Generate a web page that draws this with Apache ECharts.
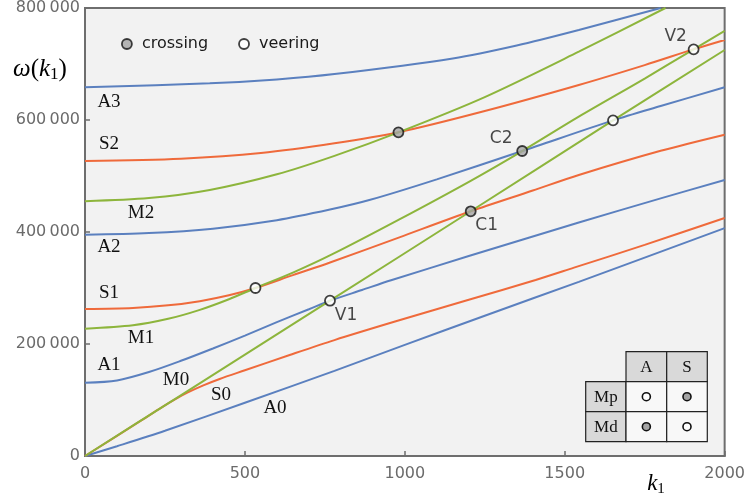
<!DOCTYPE html>
<html>
<head>
<meta charset="utf-8">
<script src="https://cdn.jsdelivr.net/npm/echarts@6/dist/echarts.min.js"></script>
<style>html,body{margin:0;padding:0;background:#fff}#c{width:748px;height:499px}</style>
</head>
<body>
<div id="c"></div>
<script>
// ---- data: [k1, omega] ----
const A0 = [[0,0],[100,17500],[250,45000],[500,95000],[780,152000],[1000,198500],[1250,250500],[1544,311000],[2000,407000]];
const A1 = [[0,130900],[100,135000],[200,150000],[300,170000],[400,192000],[500,215000],[600,239000],[700,262000],[766,277300],[866,296400],[957,313800],[1200,357000],[1544,417000],[1800,460000],[2000,492900]];
const A2 = [[0,395000],[200,398000],[400,406000],[600,421000],[766,440000],[889,457000],[1100,494000],[1367,544600],[1651,599400],[1800,625000],[2000,658500]];
const A3 = [[0,658400],[390,665500],[600,672500],[780,682000],[1150,710000],[1350,733000],[1544,760700],[1800,800000]];
const S0 = [[0,0],[170,61300],[240,86800],[280,100500],[320,113000],[370,126000],[421,137500],[500,153000],[640,180400],[780,207000],[972,240500],[1200,279000],[1409,314300],[1529,336300],[1750,377000],[2000,425000]];
const S1 = [[0,262500],[150,264500],[260,269000],[359,276500],[450,287000],[533,300000],[650,323000],[764,345000],[983,390500],[1206,437000],[1400,474000],[1544,501800],[1800,545000],[2000,573800]];
const S2 = [[0,526800],[300,531000],[550,541000],[780,558300],[980,578000],[1250,616000],[1544,662500],[1750,698000],[1903,726200],[2000,743000]];
const M0 = [[0,0],[281,101700],[766,277300],[1206,437000],[1651,599400],[2000,725000]];
const M1 = [[0,227400],[150,233500],[260,245000],[359,261000],[450,280000],[533,300000],[650,327500],[772,360000],[983,422600],[1206,491500],[1367,544600],[1544,606000],[1750,674000],[1903,726200],[2000,759000]];
const M2 = [[0,455000],[200,460500],[390,475000],[600,503000],[780,536000],[980,578000],[1250,641000],[1544,722000],[1815,800000]];

const crossingPts = [[980,578000],[1206,437000],[1367,544600]];
const crossingNames = ['', 'C1', 'C2'];
const veeringPts = [[533,300000],[766,277300],[1651,599400],[1903,726200]];
const veeringNames = ['', 'V1', '', 'V2'];

const xTickLabels = ['0','500','1000','1500','2000'];
const yTickLabels = ['0','200\u2009000','400\u2009000','600\u2009000','800\u2009000'];
const curveNames = ['A3','S2','M2','A2','S1','M1','A1','M0','S0','A0'];

// ---- styling ----
const BLUE = '#5b80bf', ORANGE = '#ef6a3b', GREEN = '#8db53c';
const GRAYDOT = '#a4a4a4';
const labelOffsets = {C1:[16,14], C2:[-21,-12], V1:[16,15], V2:[-18,-13]};
const curveLabelPos = {A3:[109,102],S2:[109,144],M2:[141,213],A2:[109,247],S1:[109,293],M1:[141,338],A1:[109,365],M0:[176,380],S0:[221,395],A0:[275,408]};

function lineSeries(name, data, color){
  return {type:'line', name:name, data:data, showSymbol:false, smooth:0.3, silent:true,
    lineStyle:{color:color, width:2}, itemStyle:{color:color}, z:2};
}
function pointItems(pts, names){
  return pts.map((p,i)=>{
    const n = names[i];
    const it = {value:p};
    if (n){
      it.label = {show:true, formatter:n, position:'inside', offset:labelOffsets[n],
        fontFamily:'DejaVu Sans', fontSize:17, color:'#1a1a1a'};
    }
    return it;
  });
}

const graphics = [];
curveNames.forEach(n=>{
  const p = curveLabelPos[n];
  graphics.push({type:'text', x:p[0], y:p[1], silent:true,
    style:{text:n, font:'19px "Liberation Serif"', fill:'#111', align:'center', verticalAlign:'middle'}});
});
graphics.push({type:'text', x:40, y:69, silent:true, style:{
  text:'{i|ω}{n|(}{i|k}{s|1}{n|)}', align:'center', verticalAlign:'middle',
  rich:{i:{fontFamily:'Liberation Serif', fontStyle:'italic', fontSize:25, lineHeight:28, color:'#111'},
        n:{fontFamily:'Liberation Serif', fontSize:25, lineHeight:28, color:'#111'},
        s:{fontFamily:'Liberation Serif', fontSize:17, lineHeight:17, verticalAlign:'bottom', color:'#111'}}
}});
graphics.push({type:'text', x:656, y:484, silent:true, style:{
  text:'{i|k}{s|1}', align:'center', verticalAlign:'middle',
  rich:{i:{fontFamily:'Liberation Serif', fontStyle:'italic', fontSize:23, lineHeight:26, color:'#111'},
        s:{fontFamily:'Liberation Serif', fontSize:15, lineHeight:16, verticalAlign:'bottom', color:'#111'}}
}});
const tx = [585.7, 626, 666.7, 707.3], ty = [351.7, 381.7, 411.7, 441.7];
const HEAD = '#d9d9d9', CELL = '#f8f8f8';
function cell(c, r, fill){
  graphics.push({type:'rect', silent:true, shape:{x:tx[c], y:ty[r], width:tx[c+1]-tx[c], height:ty[r+1]-ty[r]},
    style:{fill:fill, stroke:'#222', lineWidth:1.2}, z:10});
}
function ctext(c, r, t){
  graphics.push({type:'text', silent:true, x:(tx[c]+tx[c+1])/2, y:(ty[r]+ty[r+1])/2+1,
    style:{text:t, font:'17px "Liberation Serif"', fill:'#111', align:'center', verticalAlign:'middle'}, z:11});
}
function cdot(c, r, fill){
  graphics.push({type:'circle', silent:true, shape:{cx:(tx[c]+tx[c+1])/2, cy:(ty[r]+ty[r+1])/2, r:4},
    style:{fill:fill, stroke:'#111', lineWidth:1.6}, z:11});
}
cell(1,0,HEAD); cell(2,0,HEAD); cell(0,1,HEAD); cell(0,2,HEAD);
cell(1,1,CELL); cell(2,1,CELL); cell(1,2,CELL); cell(2,2,CELL);
ctext(1,0,'A'); ctext(2,0,'S'); ctext(0,1,'Mp'); ctext(0,2,'Md');
cdot(1,1,'#ffffff'); cdot(2,1,GRAYDOT); cdot(1,2,GRAYDOT); cdot(2,2,'#ffffff');

const chart = echarts.init(document.getElementById('c'), null, {renderer:'canvas'});
chart.setOption({
  animation:false,
  backgroundColor:'#ffffff',
  grid:{left:85, right:21, top:8, bottom:43, show:true, backgroundColor:'#f2f2f2', borderColor:'#6e6e6e', borderWidth:2},
  xAxis:{type:'value', min:0, max:2000, interval:500,
    axisLine:{show:true, lineStyle:{color:'#6e6e6e', width:2}},
    axisTick:{show:true, inside:true, length:5, lineStyle:{color:'#6e6e6e', width:1.5}},
    splitLine:{show:false},
    axisLabel:{margin:10, color:'#6b6b6b', fontFamily:'DejaVu Sans', fontSize:16,
      formatter:(v)=>xTickLabels[Math.round(v/500)]}},
  yAxis:{type:'value', min:0, max:800000, interval:200000,
    axisLine:{show:true, lineStyle:{color:'#6e6e6e', width:2}},
    axisTick:{show:true, inside:true, length:5, lineStyle:{color:'#6e6e6e', width:1.5}},
    splitLine:{show:false},
    axisLabel:{margin:5, color:'#6b6b6b', fontFamily:'DejaVu Sans', fontSize:16,
      formatter:(v)=>yTickLabels[Math.round(v/200000)]}},
  legend:{show:true, left:116, top:31, itemWidth:20, itemHeight:10, itemGap:30,
    data:[{name:'crossing', icon:'circle'},{name:'veering', icon:'circle'}],
    itemStyle:{borderColor:'#111', borderWidth:1.8},
    textStyle:{fontFamily:'DejaVu Sans', fontSize:16, color:'#1a1a1a'}},
  graphic:graphics,
  series:[
    lineSeries('A0',A0,BLUE), lineSeries('A1',A1,BLUE), lineSeries('A2',A2,BLUE), lineSeries('A3',A3,BLUE),
    lineSeries('S0',S0,ORANGE), lineSeries('S1',S1,ORANGE), lineSeries('S2',S2,ORANGE),
    lineSeries('M0',M0,GREEN), lineSeries('M1',M1,GREEN), lineSeries('M2',M2,GREEN),
    {type:'scatter', name:'crossing', data:pointItems(crossingPts, crossingNames), symbol:'circle', symbolSize:10, z:5,
      itemStyle:{color:GRAYDOT, borderColor:'#111', borderWidth:1.8}},
    {type:'scatter', name:'veering', data:pointItems(veeringPts, veeringNames), symbol:'circle', symbolSize:10, z:5,
      itemStyle:{color:'#ffffff', borderColor:'#111', borderWidth:1.8}}
  ]
});
</script>
</body>
</html>
